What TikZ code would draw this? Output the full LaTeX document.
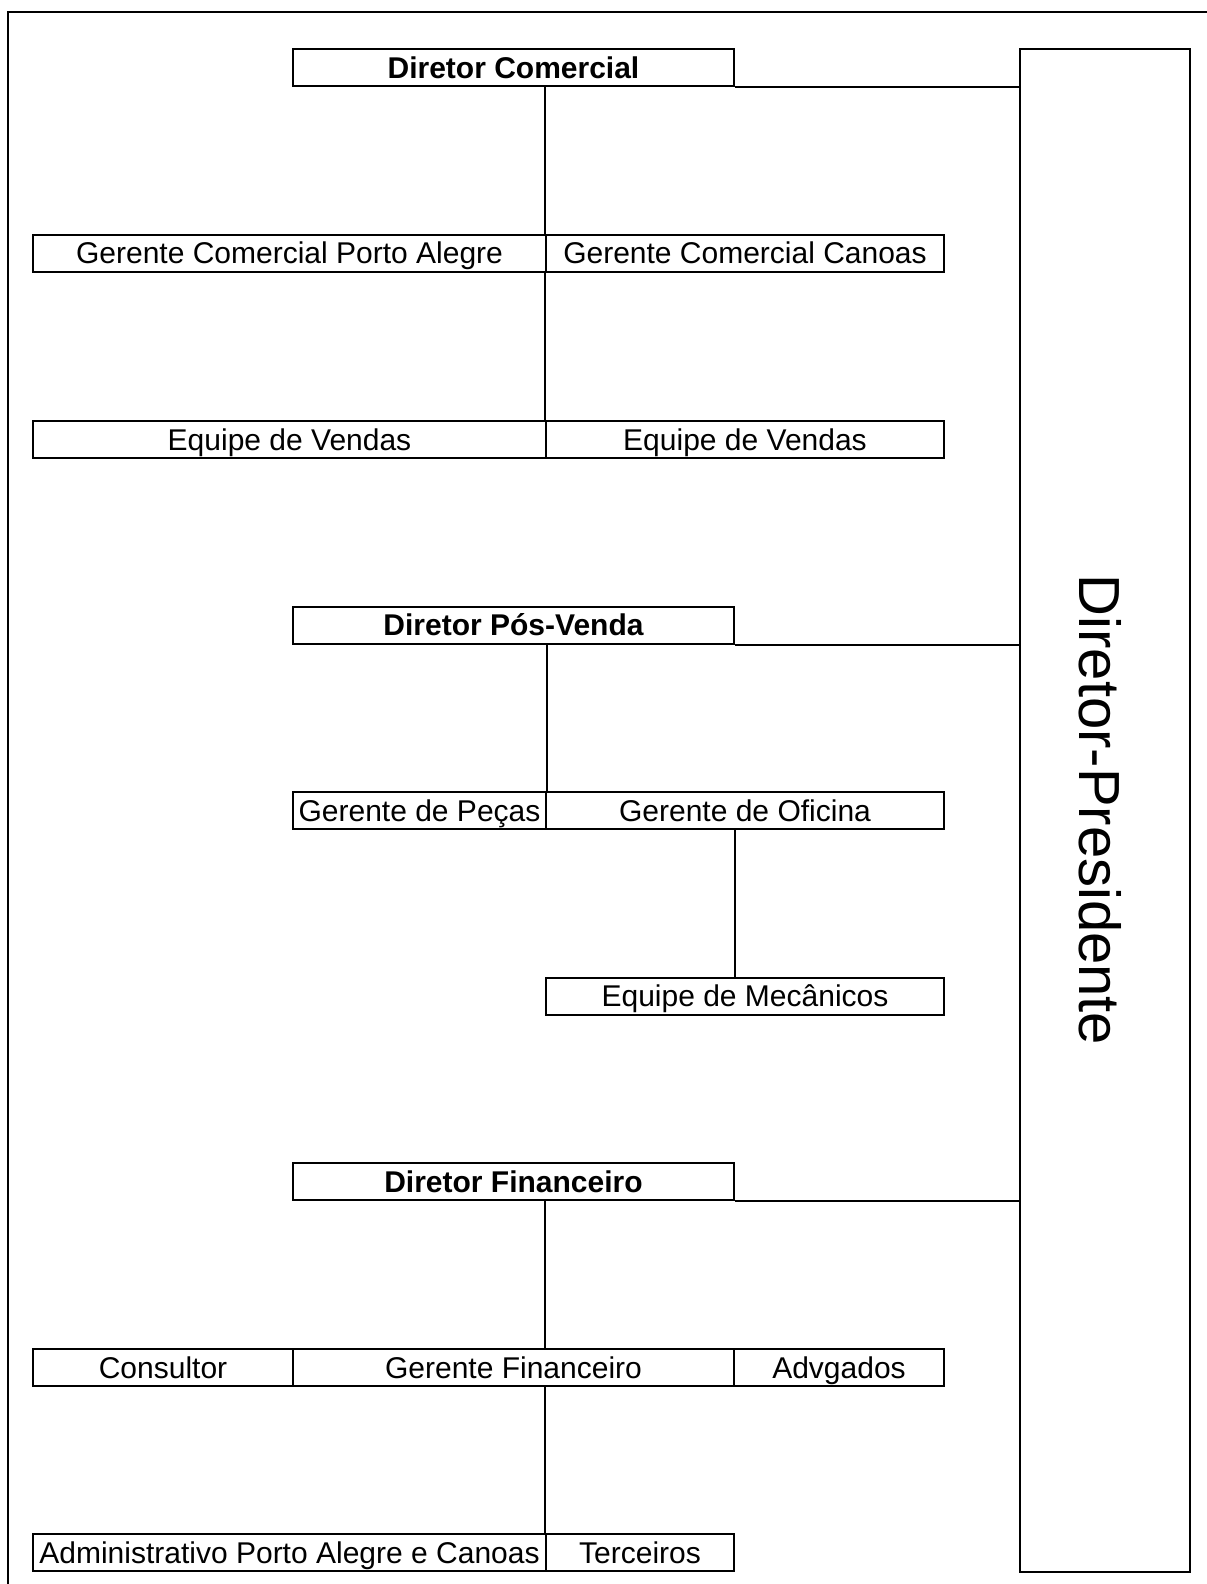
\documentclass[tikz,border=0pt]{standalone}
\usepackage{fontspec}
\setmainfont{Liberation Sans}
\usepackage{tikz}
\tikzset{box/.style={draw,line width=1pt,inner sep=0pt,minimum height=18.5pt,text height=10.7pt,text depth=0pt,font=\fontsize{15}{18}\selectfont}}
\tikzset{boss/.style={box,font=\fontsize{15}{18}\selectfont\bfseries}}

\begin{document}
\begin{tikzpicture}[x=0.5pt,y=-0.5pt,line width=1pt]
\useasboundingbox (0,0) rectangle (1206,1584);
\draw (8,1600) -- (8,12) -- (1220,12);
\node [draw,minimum width=85pt,minimum height=761.5pt] (pres) at (1105,810.5) {};
\node [rotate=-90,font=\fontsize{29}{34}\selectfont] (prestxt) at (1100,810) {Diretor-Presidente};

% comercial
\node [boss,minimum width=220.5pt] (dc) at (513.5,68) {Diretor Comercial};
\node [box,minimum width=256.5pt] (gcpa) at (289.5,253) {Gerente Comercial Porto Alegre};
\node [box,minimum width=199pt] (gcc) at (745,253) {Gerente Comercial Canoas};
\node [box,minimum width=256.5pt] (ev1) at (289.5,439.5) {Equipe de Vendas};
\node [box,minimum width=199pt] (ev2) at (745,439.5) {Equipe de Vendas};
\draw (dc.south east) -- (dc.south east -| pres.west);
\draw (gcc.north west |- dc.south) -- (gcc.north west);
\draw (gcc.south west) -- (ev2.north west);

% pos-venda
\node [boss,minimum width=220.5pt] (dpv) at (513.5,625) {Diretor Pós-Venda};
\node [box,minimum width=126.5pt] (gp) at (419.5,810.5) {Gerente de Peças};
\node [box,minimum width=199pt] (go) at (745,810.5) {Gerente de Oficina};
\node [box,minimum width=199pt] (em) at (745,996) {Equipe de Mecânicos};
\draw (dpv.south east) -- (dpv.south east -| pres.west);
\draw (gp.north east |- dpv.south) -- (gp.north east);
\draw (dpv.east |- go.south) -- (dpv.east |- em.north);

% financeiro
\node [boss,minimum width=220.5pt] (df) at (513.5,1181.5) {Diretor Financeiro};
\node [box,minimum width=130pt] (cons) at (163,1367.5) {Consultor};
\node [box,minimum width=220.5pt] (gf) at (513.5,1367.5) {Gerente Financeiro};
\node [box,minimum width=105pt] (adv) at (839,1367.5) {Advgados};
\node [box,minimum width=256.5pt] (adm) at (289.5,1552.5) {Administrativo Porto Alegre e Canoas};
\node [box,minimum width=94pt] (terc) at (640,1552.5) {Terceiros};
\draw (df.south east) -- (df.south east -| pres.west);
\draw (terc.north west |- df.south) -- (terc.north west |- gf.north);
\draw (terc.north west |- gf.south) -- (terc.north west);
\end{tikzpicture}
\end{document}
